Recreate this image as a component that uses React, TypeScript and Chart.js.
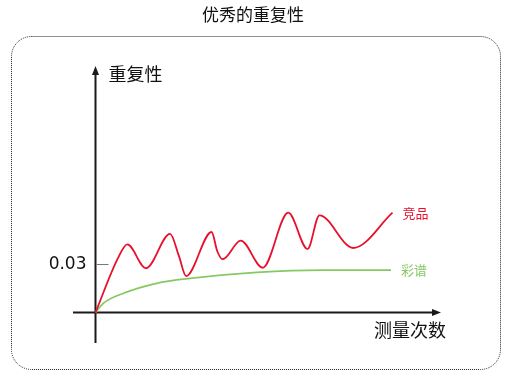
import React, { useEffect, useRef } from "react";
import { Chart, registerables } from "chart.js";

Chart.register(...registerables);

const chartTitle = "优秀的重复性";
const yAxisTitle = "重复性";
const xAxisTitle = "测量次数";
const yTickValues = [0.03];
const yTickLabels = ["0.03"];

const competitorName = "竞品";
const competitorX = [0, 7.6, 10.7, 17, 25.1, 28.1, 30.5, 39.1, 41.0, 42.8, 48.9, 56.3, 64.9, 71.4, 75.4, 86.8, 100];
const competitorY = [0, 0.0334, 0.0417, 0.0271, 0.0481, 0.0345, 0.0223, 0.0493, 0.0375, 0.0326, 0.044, 0.0274, 0.0611, 0.0389, 0.0595, 0.0395, 0.0611];

const caipuName = "彩谱";
const caipuX = [0, 2.6, 9.4, 20.6, 31.8, 54.3, 76.7, 99.5];
const caipuY = [0, 0.0056, 0.0118, 0.0179, 0.0209, 0.0246, 0.026, 0.026];

const RED = "#e8102c";
const GREEN = "#86c964";
const AXIS = "#1a1a1a";

const decorPlugin = {
  id: "decor",
  beforeDraw(chart: any) {
    const ctx = chart.ctx;
    ctx.save();
    // dotted rounded border
    ctx.strokeStyle = "#222";
    ctx.lineWidth = 1;
    ctx.setLineDash([1, 1]);
    const x0 = 11.5, y0 = 36.5, x1 = 500.5, y1 = 369.5, r = 20;
    ctx.beginPath();
    ctx.moveTo(x0 + r, y0);
    ctx.lineTo(x1 - r, y0);
    ctx.arcTo(x1, y0, x1, y0 + r, r);
    ctx.lineTo(x1, y1 - r);
    ctx.arcTo(x1, y1, x1 - r, y1, r);
    ctx.lineTo(x0 + r, y1);
    ctx.arcTo(x0, y1, x0, y1 - r, r);
    ctx.lineTo(x0, y0 + r);
    ctx.arcTo(x0, y0, x0 + r, y0, r);
    ctx.closePath();
    ctx.stroke();
    ctx.setLineDash([]);

    // title
    ctx.fillStyle = "#111";
    ctx.font = '17px "Noto Sans CJK SC", sans-serif';
    ctx.textAlign = "center";
    ctx.textBaseline = "middle";
    ctx.fillText(chartTitle, 253, 15);

    const xs = chart.scales.x;
    const ys = chart.scales.y;
    const ca = chart.chartArea;
    const ox = xs.getPixelForValue(0);
    const oy = ys.getPixelForValue(0);

    // axes
    ctx.strokeStyle = AXIS;
    ctx.fillStyle = AXIS;
    ctx.lineWidth = 2;
    ctx.beginPath();
    ctx.moveTo(ox, ca.bottom);
    ctx.lineTo(ox, ca.top + 6);
    ctx.moveTo(ca.left, oy);
    ctx.lineTo(ca.right - 6, oy);
    ctx.stroke();
    // arrows
    ctx.beginPath();
    ctx.moveTo(ox, ca.top - 2);
    ctx.lineTo(ox - 3.5, ca.top + 7);
    ctx.lineTo(ox + 3.5, ca.top + 7);
    ctx.closePath();
    ctx.fill();
    ctx.beginPath();
    ctx.moveTo(ca.right, oy);
    ctx.lineTo(ca.right - 9, oy - 3.5);
    ctx.lineTo(ca.right - 9, oy + 3.5);
    ctx.closePath();
    ctx.fill();

    // ticks
    yTickValues.forEach((v, i) => {
      const py = Math.round(ys.getPixelForValue(v)) + 0.5;
      ctx.strokeStyle = "#777";
      ctx.lineWidth = 1;
      ctx.beginPath();
      ctx.moveTo(ox + 1, py);
      ctx.lineTo(ox + 13, py);
      ctx.stroke();
      ctx.fillStyle = "#111";
      ctx.font = '17px "DejaVu Sans", sans-serif';
      ctx.textAlign = "right";
      ctx.textBaseline = "middle";
      ctx.fillText(yTickLabels[i], ox - 9, py);
    });

    // axis titles
    ctx.fillStyle = "#111";
    ctx.font = '18px "Noto Sans CJK SC", sans-serif';
    ctx.textAlign = "left";
    ctx.textBaseline = "middle";
    ctx.fillText(yAxisTitle, ox + 13, ca.top + 6);
    ctx.textAlign = "right";
    ctx.fillText(xAxisTitle, ca.right + 5, oy + 18);
    ctx.restore();
  },
  afterDatasetsDraw(chart: any) {
    const ctx = chart.ctx;
    ctx.save();
    ctx.font = '13px "Noto Sans CJK SC", sans-serif';
    ctx.textAlign = "left";
    ctx.textBaseline = "middle";
    chart.data.datasets.forEach((ds: any, i: number) => {
      const meta = chart.getDatasetMeta(i);
      const last = meta.data[meta.data.length - 1];
      ctx.fillStyle = ds.borderColor;
      ctx.fillText(ds.label, last.x + 10, last.y + (i === 0 ? 0.5 : 0));
    });
    ctx.restore();
  },
};

export default function App() {
  const ref = useRef<HTMLCanvasElement | null>(null);
  useEffect(() => {
    document.body.style.margin = "0";
    if (!ref.current) return;
    const pxPerX = 2.97;
    const pxPerY = 49 / 0.03;
    const chart = new Chart(ref.current, {
      type: "line",
      data: {
        datasets: [
          {
            label: competitorName,
            data: competitorX.map((x, i) => ({ x, y: competitorY[i] })),
            borderColor: RED,
            borderWidth: 1.8,
            pointRadius: 0,
            cubicInterpolationMode: "monotone",
            fill: false,
          },
          {
            label: caipuName,
            data: caipuX.map((x, i) => ({ x, y: caipuY[i] })),
            borderColor: GREEN,
            borderWidth: 1.8,
            pointRadius: 0,
            cubicInterpolationMode: "monotone",
            fill: false,
          },
        ],
      },
      options: {
        animation: false,
        responsive: false,
        layout: { padding: { left: 73, right: 91, top: 68, bottom: 37 } },
        plugins: { legend: { display: false }, tooltip: { enabled: false }, title: { display: false } },
        scales: {
          x: { type: "linear", display: false, min: -(95.5 - 73) / pxPerX, max: 100 + (441 - 392.5) / pxPerX },
          y: { type: "linear", display: false, min: -(343 - 312.5) / pxPerY, max: (312.5 - 68) / pxPerY },
        },
      },
      plugins: [decorPlugin],
    });
    return () => chart.destroy();
  }, []);
  return <canvas ref={ref} width={532} height={380} style={{ display: "block" }} />;
}
